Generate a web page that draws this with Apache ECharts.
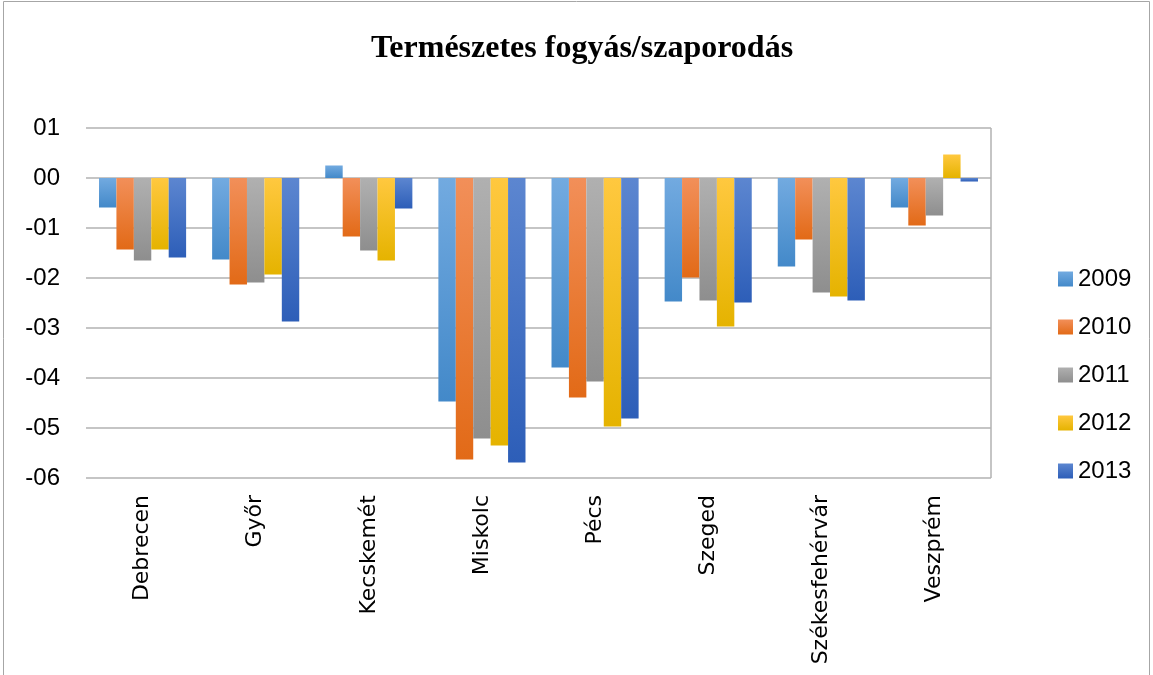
<!DOCTYPE html>
<html lang="hu">
<head>
    <meta charset="UTF-8">
    <title>Természetes fogyás/szaporodás</title>
    <script src="https://cdn.jsdelivr.net/npm/echarts@6/dist/echarts.min.js"></script>
    <style>
        body {
            margin: 0;
            padding: 0;
            background: #ffffff;
        }
        #chart {
            width: 1153px;
            height: 675px;
        }
    </style>
</head>
<body>
    <div id="chart"></div>

<script>
    // Data
    const cities = ['Debrecen', 'Győr', 'Kecskemét', 'Miskolc', 'Pécs', 'Szeged', 'Székesfehérvár', 'Veszprém'];
    const years = ['2009', '2010', '2011', '2012', '2013'];

    const v2009 = [-0.59, -1.63, 0.25, -4.47, -3.79, -2.47, -1.77, -0.59];
    const v2010 = [-1.43, -2.13, -1.17, -5.63, -4.39, -1.99, -1.23, -0.95];
    const v2011 = [-1.65, -2.09, -1.45, -5.21, -4.07, -2.45, -2.29, -0.75];
    const v2012 = [-1.43, -1.93, -1.65, -5.35, -4.97, -2.97, -2.37, 0.47];
    const v2013 = [-1.59, -2.87, -0.61, -5.69, -4.81, -2.49, -2.45, -0.07];

    const yearValues = [v2009, v2010, v2011, v2012, v2013];

    // light top / darker bottom, like the Excel fill
    const colorPairs = [
        ['#72AAE0', '#4389C9'],
        ['#F28F59', '#E26A17'],
        ['#B0B0B0', '#8E8E8E'],
        ['#FFC83F', '#E5B300'],
        ['#5C86D0', '#2D5EB8']
    ];

    function gradient(pair) {
        return new echarts.graphic.LinearGradient(0, 0, 0, 1, [
            { offset: 0, color: pair[0] },
            { offset: 1, color: pair[1] }
        ]);
    }

    const chart = echarts.init(document.getElementById('chart'));

    const series = years.map((year, i) => ({
        name: year,
        type: 'bar',
        data: yearValues[i],
        barGap: '0%',
        barCategoryGap: '23%',
        itemStyle: { color: gradient(colorPairs[i]) }
    }));

    const options = {
        backgroundColor: '#ffffff',
        animation: false,
        title: {
            text: 'Természetes fogyás/szaporodás',
            left: 577,
            top: 28,
            textAlign: 'center',
            textStyle: {
                fontFamily: 'Liberation Serif',
                fontWeight: 'bold',
                fontSize: 32,
                color: '#000000'
            }
        },
        legend: {
            orient: 'vertical',
            left: 1053,
            top: 262,
            itemWidth: 15,
            itemHeight: 15,
            itemGap: 24,
            icon: 'rect',
            textStyle: {
                fontFamily: 'Liberation Sans',
                fontSize: 24,
                lineHeight: 22,
                color: '#000000'
            }
        },
        grid: {
            left: 86,
            right: 162,
            top: 128,
            bottom: 197
        },
        xAxis: {
            type: 'category',
            data: cities,
            axisLine: { show: false, onZero: false },
            axisTick: { show: false },
            axisLabel: {
                rotate: 90,
                margin: 17,
                interval: 0,
                fontFamily: 'DejaVu Sans',
                fontSize: 22,
                color: '#000000'
            }
        },
        yAxis: {
            type: 'value',
            min: -6,
            max: 1,
            interval: 1,
            axisLine: { show: false },
            axisTick: { show: false },
            axisLabel: {
                margin: 26,
                fontFamily: 'Liberation Sans',
                fontSize: 24,
                color: '#000000',
                formatter: function (v) {
                    return (v < 0 ? '-0' : '0') + Math.abs(v);
                }
            },
            splitLine: {
                lineStyle: { color: '#B2B2B2', width: 1.5 }
            }
        },
        series: series
    };

    chart.setOption(options);

    // outer chart frame and right edge of plot area
    const gridRect = chart.getModel().getComponent('grid').coordinateSystem.getRect();
    chart.setOption({
        graphic: [
            {
                type: 'rect',
                shape: { x: 3.5, y: 1.5, width: 1146, height: 700 },
                style: { fill: null, stroke: '#A6A6A6', lineWidth: 1 },
                silent: true
            },
            {
                type: 'line',
                shape: {
                    x1: gridRect.x + gridRect.width, y1: gridRect.y,
                    x2: gridRect.x + gridRect.width, y2: gridRect.y + gridRect.height
                },
                style: { stroke: '#B2B2B2', lineWidth: 1.5 },
                silent: true
            }
        ]
    });
</script>
</body>
</html>
